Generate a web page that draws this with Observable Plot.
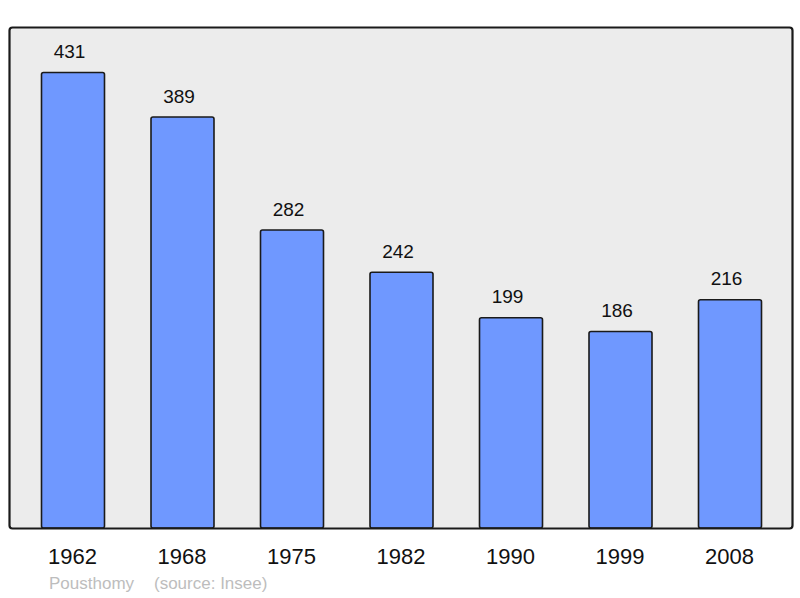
<!DOCTYPE html>
<html>
<head>
<meta charset="utf-8">
<script src="https://cdn.jsdelivr.net/npm/d3@7"></script>
<script src="https://cdn.jsdelivr.net/npm/@observablehq/plot@0.6"></script>
<style>
  html, body { margin: 0; padding: 0; background: #fff; }
  #wrap { position: relative; width: 800px; height: 598px; font-family: "Liberation Sans", Arial, sans-serif; }
  #caption { position: absolute; left: 49px; top: 575px; font-size: 17px; line-height: 17px; color: #bdbdbd; white-space: pre; }
  #caption span.src { position: absolute; left: 105px; top: 0; }
</style>
</head>
<body>
<div id="wrap"></div>
<script>
const years = ["1962", "1968", "1975", "1982", "1990", "1999", "2008"];
const population = [431, 389, 282, 242, 199, 186, 216];
const commune = "Pousthomy";
const source = "(source: Insee)";

const data = years.map((y, i) => ({year: y, pop: population[i]}));
const yMax = d3.max(population) * 1.1;

const chart = Plot.plot({
  width: 800,
  height: 575,
  marginTop: 27,
  marginBottom: 47,
  marginLeft: 9,
  marginRight: 8,
  style: {fontFamily: "Liberation Sans, Arial, sans-serif", background: "transparent"},
  x: {domain: years, paddingInner: 0.4247, paddingOuter: 0.2785, insetLeft: 2, round: false, label: null},
  y: {domain: [0, yMax], axis: null},
  marks: [
    Plot.frame({fill: "#ececec", stroke: "none", rx: 3}),
    Plot.barY(data, {x: "year", y: "pop", fill: "#6f98ff", stroke: "#1a1a1a", strokeWidth: 1.6, rx: 2}),
    Plot.text(data, {x: "year", y: "pop", text: d => String(d.pop), dy: -21, dx: -4, fontSize: 19, fill: "#111"}),
    Plot.frame({fill: "none", stroke: "#1a1a1a", strokeWidth: 2.2, rx: 3}),
    Plot.axisX({tickSize: 0, tickPadding: 20, dx: -1, fontSize: 22, fill: "#111", label: null})
  ]
});
const wrap = document.getElementById("wrap");
wrap.appendChild(chart);
const cap = document.createElement("div");
cap.id = "caption";
const s1 = document.createElement("span");
s1.textContent = commune;
const s2 = document.createElement("span");
s2.className = "src";
s2.textContent = source;
cap.appendChild(s1);
cap.appendChild(s2);
wrap.appendChild(cap);
</script>
</body>
</html>
